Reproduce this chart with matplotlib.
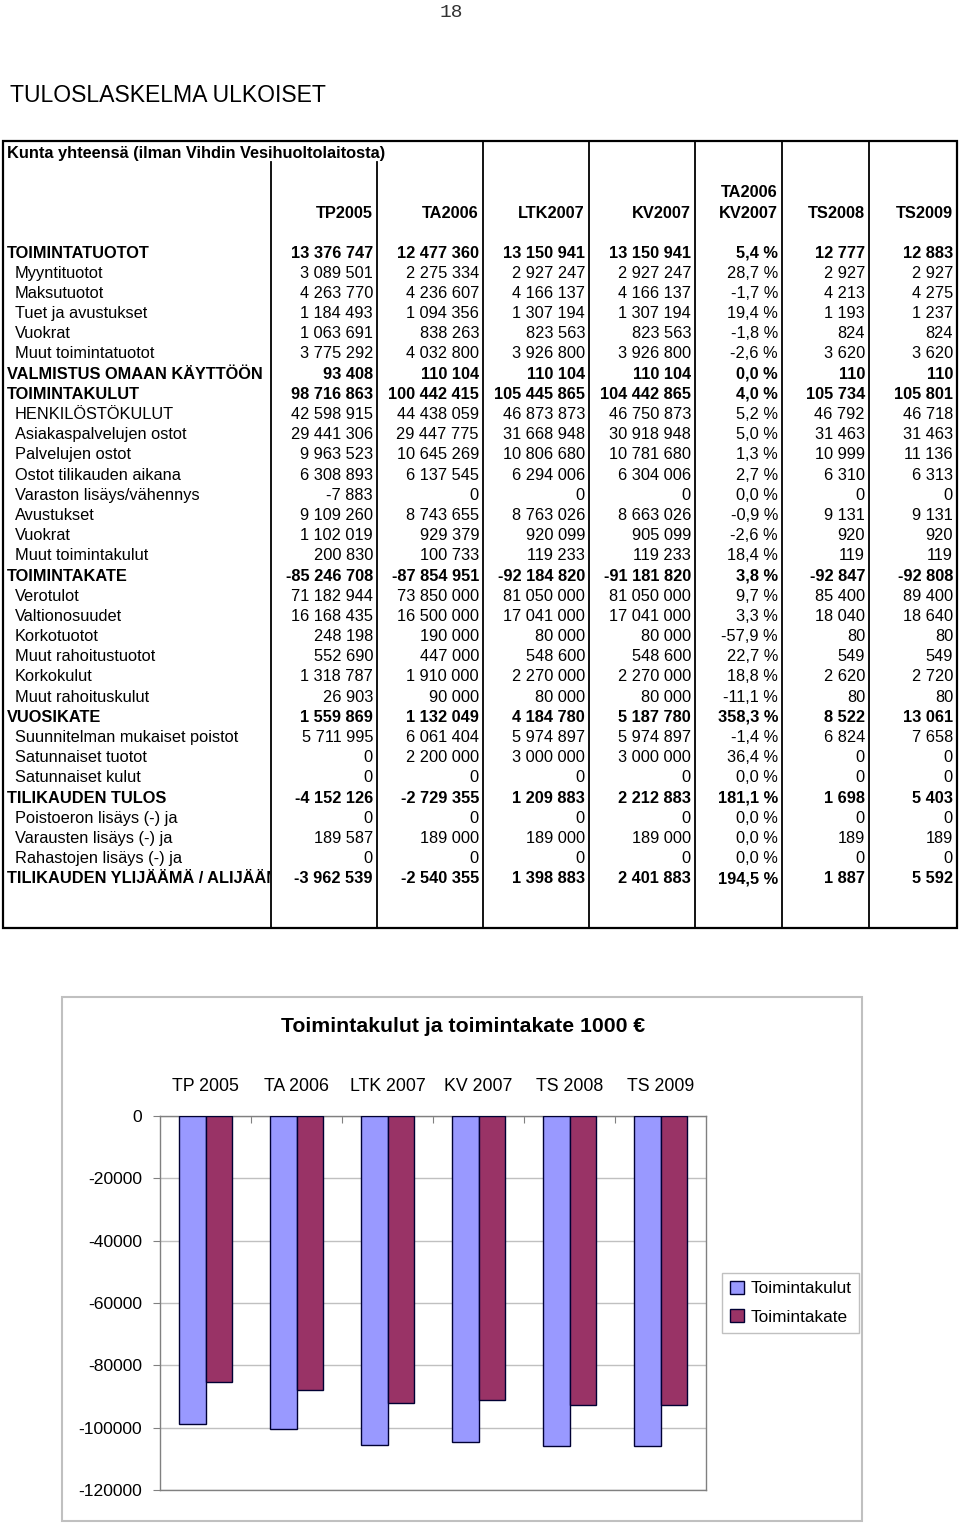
import matplotlib.pyplot as plt
from matplotlib.patches import Rectangle, Patch
from matplotlib.transforms import Bbox, TransformedBbox

plt.rcParams['font.family'] = ['Liberation Sans', 'DejaVu Sans']
plt.rcParams['axes.unicode_minus'] = False

# ---------------------------------------------------------------------------
# Table data
# ---------------------------------------------------------------------------
row_labels = [
    "TOIMINTATUOTOT", "Myyntituotot", "Maksutuotot", "Tuet ja avustukset",
    "Vuokrat", "Muut toimintatuotot", "VALMISTUS OMAAN KÄYTTÖÖN",
    "TOIMINTAKULUT", "HENKILÖSTÖKULUT", "Asiakaspalvelujen ostot",
    "Palvelujen ostot", "Ostot tilikauden aikana", "Varaston lisäys/vähennys",
    "Avustukset", "Vuokrat", "Muut toimintakulut", "TOIMINTAKATE",
    "Verotulot", "Valtionosuudet", "Korkotuotot", "Muut rahoitustuotot",
    "Korkokulut", "Muut rahoituskulut", "VUOSIKATE",
    "Suunnitelman mukaiset poistot", "Satunnaiset tuotot", "Satunnaiset kulut",
    "TILIKAUDEN TULOS", "Poistoeron lisäys (-) ja", "Varausten lisäys (-) ja",
    "Rahastojen lisäys (-) ja", "TILIKAUDEN YLIJÄÄMÄ / ALIJÄÄMÄ",
]
bold_rows = [0, 6, 7, 16, 23, 27, 31]

tp2005 = [13376747, 3089501, 4263770, 1184493, 1063691, 3775292, 93408,
          98716863, 42598915, 29441306, 9963523, 6308893, -7883, 9109260,
          1102019, 200830, -85246708, 71182944, 16168435, 248198, 552690,
          1318787, 26903, 1559869, 5711995, 0, 0, -4152126, 0, 189587, 0,
          -3962539]
ta2006 = [12477360, 2275334, 4236607, 1094356, 838263, 4032800, 110104,
          100442415, 44438059, 29447775, 10645269, 6137545, 0, 8743655,
          929379, 100733, -87854951, 73850000, 16500000, 190000, 447000,
          1910000, 90000, 1132049, 6061404, 2200000, 0, -2729355, 0, 189000, 0,
          -2540355]
ltk2007 = [13150941, 2927247, 4166137, 1307194, 823563, 3926800, 110104,
           105445865, 46873873, 31668948, 10806680, 6294006, 0, 8763026,
           920099, 119233, -92184820, 81050000, 17041000, 80000, 548600,
           2270000, 80000, 4184780, 5974897, 3000000, 0, 1209883, 0, 189000, 0,
           1398883]
kv2007 = [13150941, 2927247, 4166137, 1307194, 823563, 3926800, 110104,
          104442865, 46750873, 30918948, 10781680, 6304006, 0, 8663026,
          905099, 119233, -91181820, 81050000, 17041000, 80000, 548600,
          2270000, 80000, 5187780, 5974897, 3000000, 0, 2212883, 0, 189000, 0,
          2401883]
muutos = [5.4, 28.7, -1.7, 19.4, -1.8, -2.6, 0.0, 4.0, 5.2, 5.0, 1.3, 2.7,
          0.0, -0.9, -2.6, 18.4, 3.8, 9.7, 3.3, -57.9, 22.7, 18.8, -11.1,
          358.3, -1.4, 36.4, 0.0, 181.1, 0.0, 0.0, 0.0, 194.5]
ts2008 = [12777, 2927, 4213, 1193, 824, 3620, 110, 105734, 46792, 31463,
          10999, 6310, 0, 9131, 920, 119, -92847, 85400, 18040, 80, 549, 2620,
          80, 8522, 6824, 0, 0, 1698, 0, 189, 0, 1887]
ts2009 = [12883, 2927, 4275, 1237, 824, 3620, 110, 105801, 46718, 31463,
          11136, 6313, 0, 9131, 920, 119, -92808, 89400, 18640, 80, 549, 2720,
          80, 13061, 7658, 0, 0, 5403, 0, 189, 0, 5592]

col_headers = ["TP2005", "TA2006", "LTK2007", "KV2007", "TA2006\nKV2007",
               "TS2008", "TS2009"]

# ---------------------------------------------------------------------------
# Chart data (1000 €)
# ---------------------------------------------------------------------------
categories = ["TP 2005", "TA 2006", "LTK 2007", "KV 2007", "TS 2008", "TS 2009"]
toimintakulut = [-98717, -100442, -105446, -104443, -105734, -105801]
toimintakate = [-85247, -87855, -92185, -91182, -92847, -92808]


def fmt_int(v):
    s = f"{abs(v):,}".replace(",", " ")
    return "-" + s if v < 0 else s


def fmt_pct(v):
    return f"{v:.1f} %".replace(".", ",")


W, H = 960, 1523
fig = plt.figure(figsize=(W / 100, H / 100), dpi=100)

# page overlay in pixel coordinates
page = fig.add_axes([0, 0, 1, 1])
page.set_xlim(0, W)
page.set_ylim(H, 0)
page.axis('off')

page.text(451, 12, "18", ha='center', va='center', fontsize=14,
          family='Liberation Mono', color='#333333')
page.text(10, 95, "TULOSLASKELMA ULKOISET", ha='left', va='center',
          fontsize=16.6)

# table frame
top, bottom = 141, 928
page.add_patch(Rectangle((3, top), 954, bottom - top, fill=False,
                         edgecolor='black', lw=1.6))
for x in [271, 377]:
    page.plot([x, x], [162, bottom], color='black', lw=1.3)
for x in [483, 589, 695, 782, 869]:
    page.plot([x, x], [top, bottom], color='black', lw=1.3)

fs = 11.8
base = 5.5   # baseline offset below row centre
page.text(7, 152 + base, "Kunta yhteensä (ilman Vihdin Vesihuoltolaitosta)",
          ha='left', va='baseline', fontsize=fs, fontweight='bold')

col_right = [373, 479, 585, 691, 778, 865, 953]
for xr, h in zip(col_right, col_headers):
    lines = h.split("\n")
    for k, ln in enumerate(reversed(lines)):
        page.text(xr, 212 - 21 * k + base, ln, ha='right', va='baseline',
                  fontsize=fs, fontweight='bold')

clip = TransformedBbox(Bbox([[0, 0], [270, H]]), page.transData)
y0, dy = 252, 20.19
for i, lab in enumerate(row_labels):
    y = y0 + i * dy + base
    b = i in bold_rows
    w = 'bold' if b else 'normal'
    t = page.text(7 if b else 15, y, lab, ha='left', va='baseline',
                  fontsize=fs, fontweight=w)
    t.set_clip_box(clip)
    t.set_clip_on(True)
    vals = [fmt_int(tp2005[i]), fmt_int(ta2006[i]), fmt_int(ltk2007[i]),
            fmt_int(kv2007[i]), fmt_pct(muutos[i]), fmt_int(ts2008[i]),
            fmt_int(ts2009[i])]
    for xr, v in zip(col_right, vals):
        page.text(xr, y, v, ha='right', va='baseline', fontsize=fs,
                  fontweight=w)

# chart outer border
page.add_patch(Rectangle((62, 997), 800, 524, fill=False,
                         edgecolor='#c0c0c0', lw=1.5))
page.text(463, 1027, "Toimintakulut ja toimintakate 1000 €", ha='center',
          va='center', fontsize=15.3, fontweight='bold')

# ---------------------------------------------------------------------------
# Bar chart
# ---------------------------------------------------------------------------
ax = fig.add_axes([160 / W, 1 - 1490 / H, 546 / W, (1490 - 1116) / H])
ax.patch.set_alpha(0)
xs = range(len(categories))
bw = 0.286
blue, purple = '#9999FF', '#993366'
ax.bar([x - bw / 2 for x in xs], toimintakulut, bw, color=blue,
       edgecolor='#000033', lw=1, zorder=3, label='Toimintakulut')
ax.bar([x + bw / 2 for x in xs], toimintakate, bw, color=purple,
       edgecolor='#000033', lw=1, zorder=3, label='Toimintakate')

ax.set_xlim(-0.5, len(categories) - 0.5)
ax.set_ylim(-120000, 0)
ax.set_yticks(range(-120000, 1, 20000))
ax.tick_params(axis='y', labelsize=12.6, length=5, color='#808080', pad=8)
ax.grid(axis='y', color='#c0c0c0', lw=1, zorder=0)

ax.xaxis.tick_top()
ax.set_xticks([x + 0.5 for x in xs[:-1]])
ax.set_xticklabels([])
ax.set_xticks(list(xs), minor=True)
ax.set_xticklabels(categories, minor=True)
ax.tick_params(axis='x', which='major', direction='in', length=5,
               color='#808080')
ax.tick_params(axis='x', which='minor', length=0, labelsize=12.8, pad=15)
for s in ax.spines.values():
    s.set_color('#808080')
    s.set_linewidth(1)

handles = [Patch(facecolor=blue, edgecolor='#000033', lw=1),
           Patch(facecolor=purple, edgecolor='#000033', lw=1)]
fig.legend(handles, ['Toimintakulut', 'Toimintakate'], loc='upper left',
           bbox_to_anchor=(722 / W, 1 - 1273 / H), borderaxespad=0,
           fontsize=12.4, fancybox=False, edgecolor='#c0c0c0',
           handlelength=0.8, handleheight=0.8, handletextpad=0.4,
           labelspacing=0.75, borderpad=0.45, framealpha=1)

fig.savefig("out.png", dpi=100)
